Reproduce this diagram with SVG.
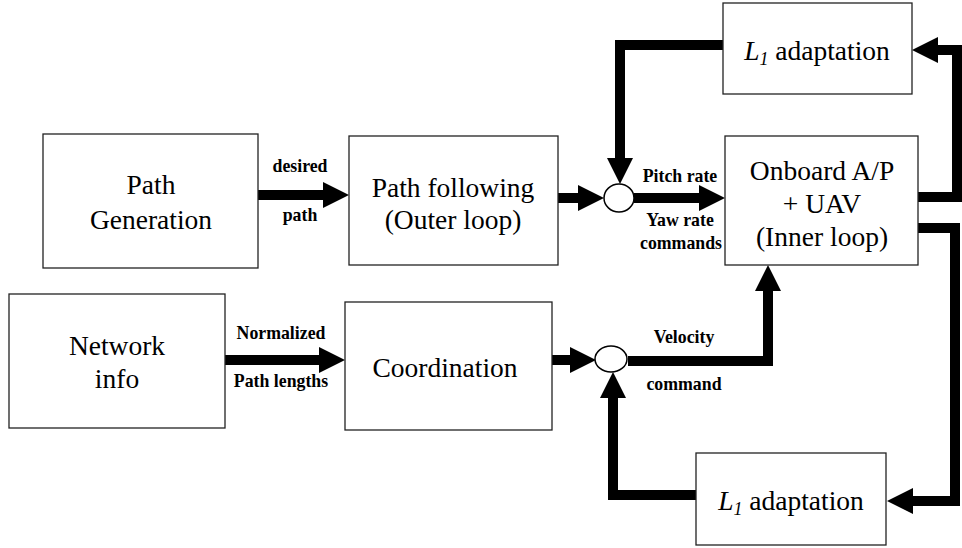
<svg xmlns="http://www.w3.org/2000/svg" width="962" height="548" viewBox="0 0 962 548">
<defs>
<marker id="ah" markerUnits="userSpaceOnUse" viewBox="0 0 26 26" markerWidth="26" markerHeight="26" refX="0" refY="13" orient="auto">
<path d="M0,0 L26,13 L0,26 z" fill="#000"/>
</marker>
</defs>
<style>
.box{fill:#fff;stroke:#222;stroke-width:1.3}
.lbl{font-size:27.5px;fill:#000;text-anchor:middle}
.sm{font-size:17.8px;font-weight:bold;fill:#000;text-anchor:middle}
.wire{fill:none;stroke:#000;stroke-width:10;stroke-linejoin:miter;stroke-linecap:butt}
.sum{fill:#fff;stroke:#000;stroke-width:1.5}
</style>
<rect width="962" height="548" fill="#fff"/>
<g id="connectors" font-family="Liberation Serif, Times New Roman, DejaVu Serif, serif">
<path class="wire" d="M258,195 H323" marker-end="url(#ah)"/>
<path class="wire" d="M225,360 H319" marker-end="url(#ah)"/>
<path class="wire" d="M558,198 H578" marker-end="url(#ah)"/>
<path class="wire" d="M634,198 H699" marker-end="url(#ah)"/>
<path class="wire" d="M723,45 H620 V158" marker-end="url(#ah)"/>
<path class="wire" d="M918,197 H957 V50 H938" marker-end="url(#ah)"/>
<path class="wire" d="M918,228 H955 V501 H913" marker-end="url(#ah)"/>
<path class="wire" d="M696,495 H613 V398" marker-end="url(#ah)"/>
<path class="wire" d="M552,360 H570" marker-end="url(#ah)"/>
<path class="wire" d="M628,361 H768 V291" marker-end="url(#ah)"/>
<text class="sm" x="300" y="172">desired</text>
<text class="sm" x="300" y="221">path</text>
<text class="sm" x="281" y="339">Normalized</text>
<text class="sm" x="281" y="387">Path lengths</text>
<text class="sm" x="680" y="182">Pitch rate</text>
<text class="sm" x="680" y="226">Yaw rate</text>
<text class="sm" x="681" y="249">commands</text>
<text class="sm" x="684" y="343">Velocity</text>
<text class="sm" x="684" y="390">command</text>
</g>
<g font-family="Liberation Serif, Times New Roman, DejaVu Serif, serif">
<g id="path-generation">
<rect class="box" x="43" y="134" width="215" height="134"/>
<text class="lbl" x="151" y="194">Path</text>
<text class="lbl" x="151" y="229">Generation</text>
</g>
<g id="network-info">
<rect class="box" x="9" y="294" width="216" height="134"/>
<text class="lbl" x="117" y="355">Network</text>
<text class="lbl" x="117" y="388">info</text>
</g>
<g id="path-following">
<rect class="box" x="349" y="136" width="209" height="129"/>
<text class="lbl" x="453" y="197">Path following</text>
<text class="lbl" x="453" y="229">(Outer loop)</text>
</g>
<g id="coordination">
<rect class="box" x="345" y="302" width="207" height="128"/>
<text class="lbl" x="445" y="377">Coordination</text>
</g>
<g id="onboard">
<rect class="box" x="725" y="136" width="193" height="129"/>
<text class="lbl" x="822" y="180">Onboard A/P</text>
<text class="lbl" x="822" y="213">+ UAV</text>
<text class="lbl" x="822" y="246">(Inner loop)</text>
</g>
<g id="l1-top">
<rect class="box" x="723" y="3" width="189" height="91"/>
<text class="lbl" x="817" y="60"><tspan font-style="italic">L</tspan><tspan font-style="italic" font-size="18" dy="5">1</tspan><tspan dy="-5"> adaptation</tspan></text>
</g>
<g id="l1-bottom">
<rect class="box" x="696" y="453" width="190" height="92"/>
<text class="lbl" x="791" y="510"><tspan font-style="italic">L</tspan><tspan font-style="italic" font-size="18" dy="5">1</tspan><tspan dy="-5"> adaptation</tspan></text>
</g>
</g>
<g id="sum-top">
<ellipse class="sum" cx="619" cy="198" rx="15" ry="14"/>
</g>
<g id="sum-bottom">
<ellipse class="sum" cx="611" cy="359" rx="16" ry="13"/>
</g>
</svg>
